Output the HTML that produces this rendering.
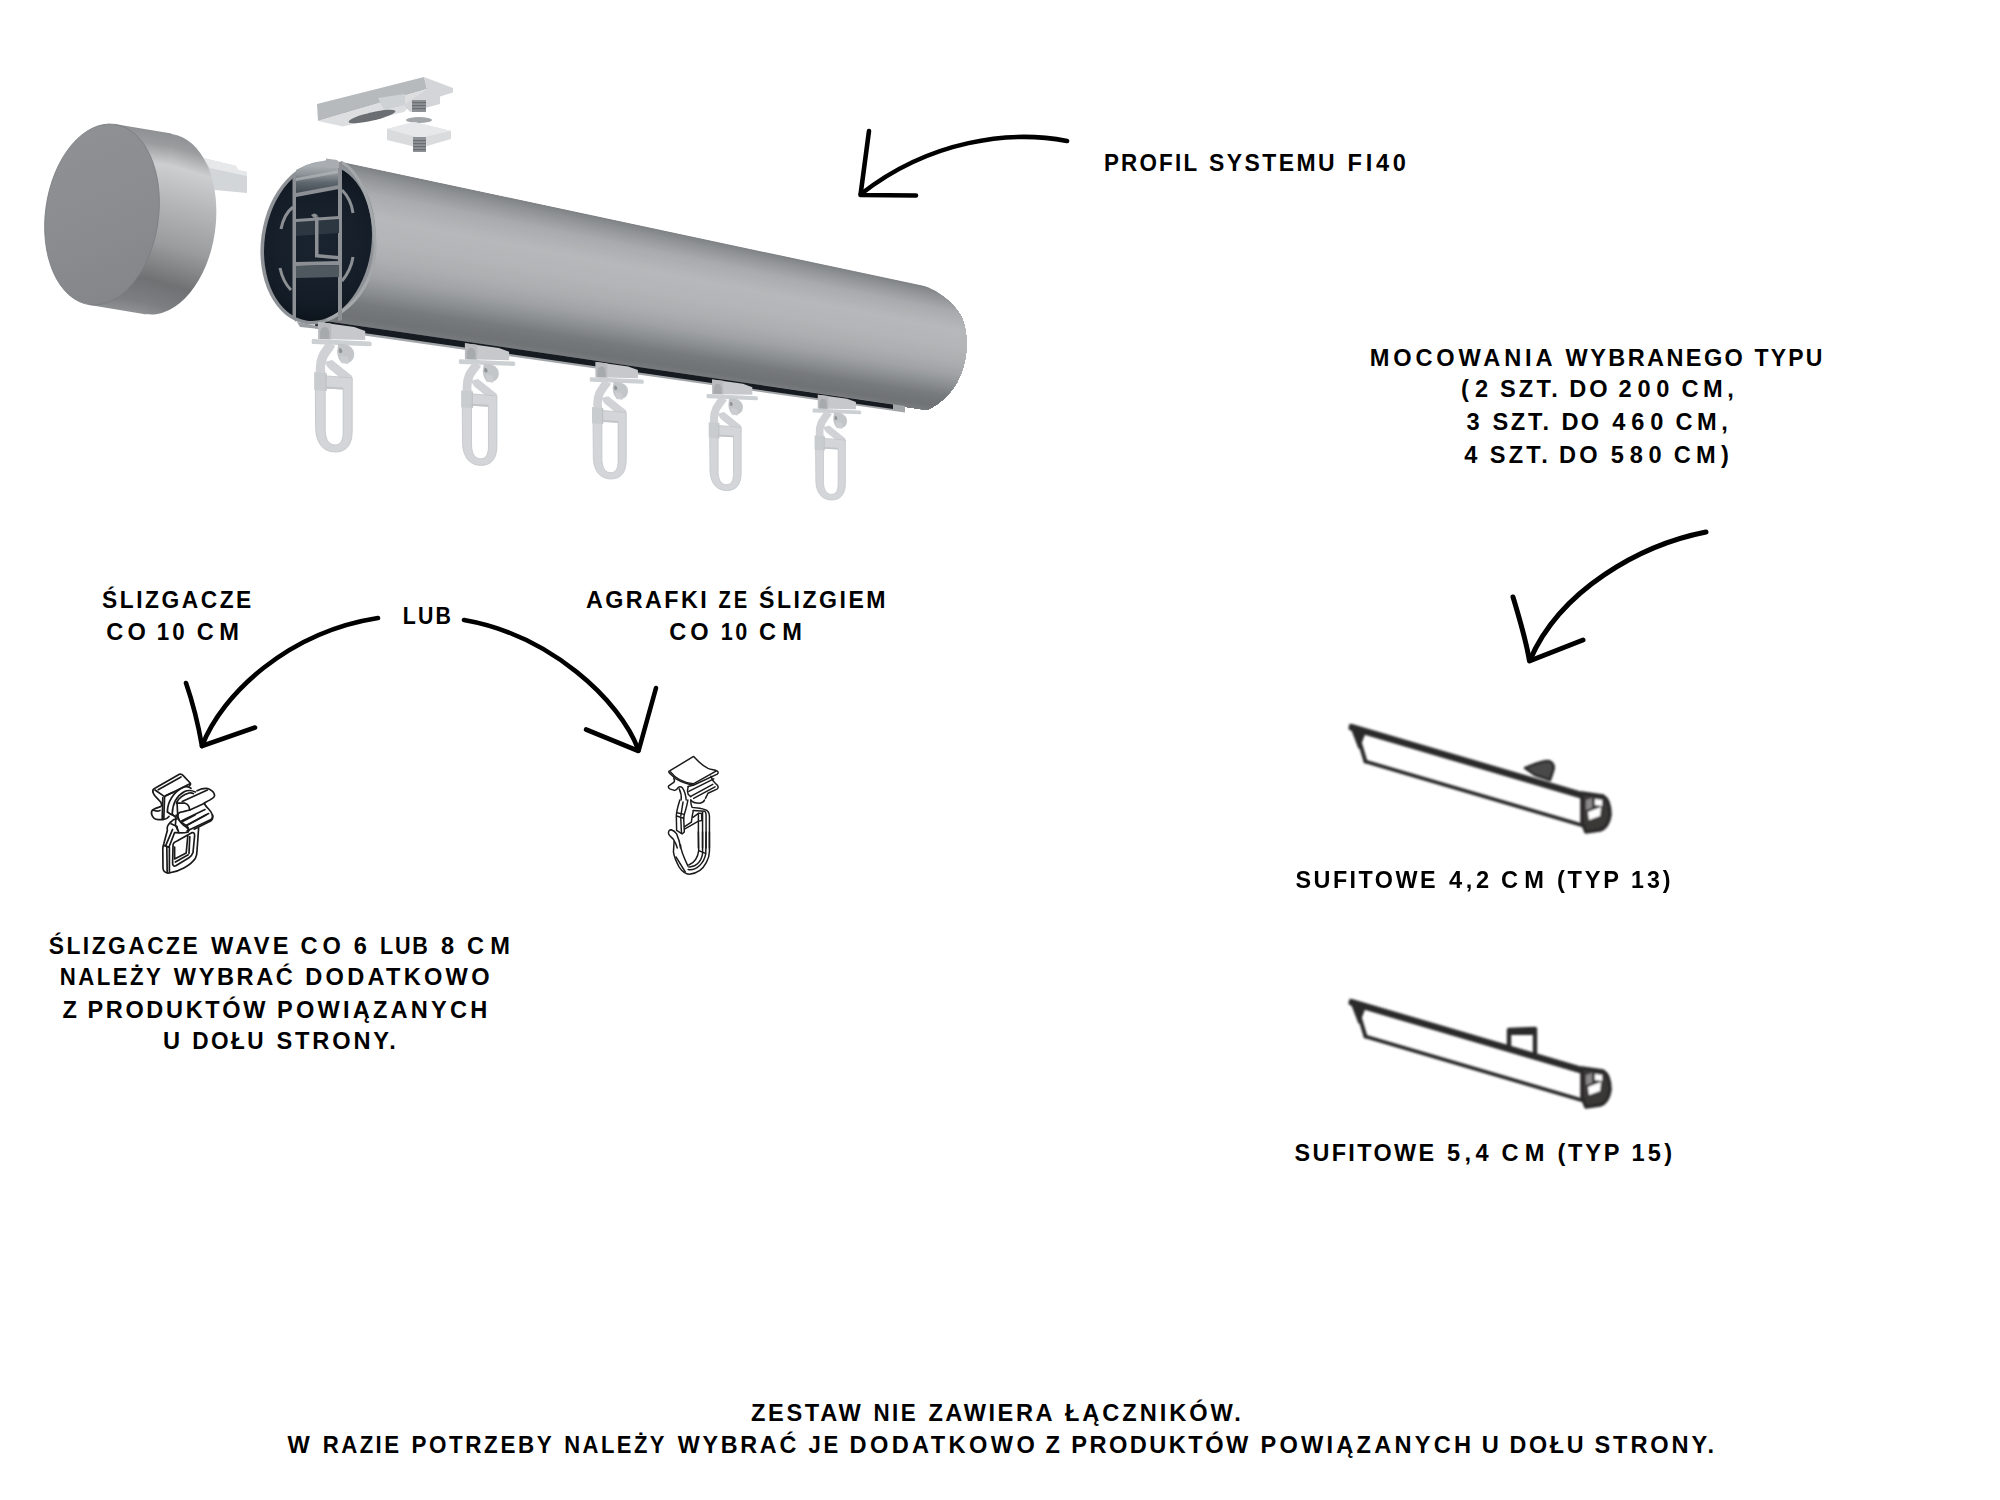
<!DOCTYPE html>
<html><head><meta charset="utf-8"><style>
html,body{margin:0;padding:0;background:#fff;}
body{width:2000px;height:1500px;overflow:hidden;font-family:"Liberation Sans",sans-serif;}
svg{position:absolute;left:0;top:0;}
</style></head><body>
<svg width="2000" height="1500" viewBox="0 0 2000 1500">
<defs><filter id="soft" x="-5%" y="-20%" width="110%" height="140%"><feGaussianBlur stdDeviation="1.0"/></filter></defs>
<polygon points="203,158 236,166 238,170 247,172 247,193 215,190 205,197" fill="#d3d6d9"/>
<polygon points="203,158 236,166 238,170 247,172 247,176 210,168" fill="#e6e8ea"/>
<linearGradient id="capband" gradientUnits="userSpaceOnUse" x1="178" y1="128" x2="150" y2="318"><stop offset="0" stop-color="#898b8e"/><stop offset="0.1" stop-color="#9a9c9e"/><stop offset="0.2" stop-color="#cdcecf"/><stop offset="0.4" stop-color="#b2b4b6"/><stop offset="0.6" stop-color="#9a9c9e"/><stop offset="0.8" stop-color="#6f7173"/><stop offset="0.92" stop-color="#7c7e81"/><stop offset="1" stop-color="#939597"/></linearGradient>
<g fill="url(#capband)">
<ellipse cx="159.0" cy="224.0" rx="56.5" ry="91.0" transform="rotate(8 159.0 224.0)"/>
<polygon points="114.5,124.0 171.5,133.5 146.5,314.5 89.5,305.0"/>
</g>
<linearGradient id="capface" gradientUnits="userSpaceOnUse" x1="60" y1="140" x2="150" y2="300"><stop offset="0" stop-color="#8e9093"/><stop offset="0.5" stop-color="#8a8c8f"/><stop offset="1" stop-color="#838588"/></linearGradient>
<ellipse cx="102.0" cy="214.5" rx="56.5" ry="91.0" transform="rotate(8 102.0 214.5)" fill="url(#capface)" stroke="#7a7c7f" stroke-width="0.8"/>
<polygon points="317,104 424,77 427,89 318,121" fill="#b7babd"/>
<polygon points="318,121 427,89 404,112 343,126.5" fill="#dcdee0"/>
<polygon points="424,77 453,88 453,92.5 440,96.5 440,104 410,112 404,105 427,89" fill="#d3d5d8"/>
<polygon points="378,98 405,94 405,105 384,110" fill="#cfd2d5"/>
<ellipse cx="372" cy="116.5" rx="24" ry="4.2" transform="rotate(-13 372 116.5)" fill="#6b6e72"/>
<rect x="412" y="100" width="14" height="12" fill="#8e9195"/>
<rect x="412" y="102" width="14" height="1.2" fill="#6a6d71"/>
<rect x="412" y="105" width="14" height="1.2" fill="#6a6d71"/>
<rect x="412" y="108" width="14" height="1.2" fill="#6a6d71"/>
<ellipse cx="419" cy="120" rx="13" ry="3" fill="#a3a6a9"/>
<polygon points="387,129 414,122 451,131 451,139 420,148 387,140" fill="#d9dbdd"/>
<polygon points="387,129 414,122 451,131 420,138 " fill="#e6e8ea"/>
<rect x="413" y="137" width="13" height="15" fill="#8e9195"/>
<rect x="413" y="140" width="13" height="1.2" fill="#6a6d71"/>
<rect x="413" y="143" width="13" height="1.2" fill="#6a6d71"/>
<rect x="413" y="146" width="13" height="1.2" fill="#6a6d71"/>
<rect x="413" y="149" width="13" height="1.2" fill="#6a6d71"/>
<clipPath id="railclip"><path d="M341,161.5 L922,285 C940,291 956,305 962,318 C968,333 968,352 963,368 C957,388 944,402 927,410 L325,321.9 L300,243 L330,166 Z"/></clipPath>
<g clip-path="url(#railclip)">
<polygon points="300.00,153.04 975.00,296.82 975.00,417.44 300.00,318.21" fill="#818487"/>
<polygon points="300.00,155.40 975.00,298.54 975.00,417.44 300.00,318.21" fill="#86898c"/>
<polygon points="300.00,157.76 975.00,300.26 975.00,417.44 300.00,318.21" fill="#8a8d90"/>
<polygon points="300.00,160.12 975.00,301.99 975.00,417.44 300.00,318.21" fill="#8f9295"/>
<polygon points="300.00,162.48 975.00,303.71 975.00,417.44 300.00,318.21" fill="#929598"/>
<polygon points="300.00,164.84 975.00,305.43 975.00,417.44 300.00,318.21" fill="#96989b"/>
<polygon points="300.00,167.20 975.00,307.15 975.00,417.44 300.00,318.21" fill="#999c9f"/>
<polygon points="300.00,169.56 975.00,308.88 975.00,417.44 300.00,318.21" fill="#9d9fa2"/>
<polygon points="300.00,171.92 975.00,310.60 975.00,417.44 300.00,318.21" fill="#a0a2a5"/>
<polygon points="300.00,174.28 975.00,312.32 975.00,417.44 300.00,318.21" fill="#a3a5a8"/>
<polygon points="300.00,176.64 975.00,314.05 975.00,417.44 300.00,318.21" fill="#a7a9ac"/>
<polygon points="300.00,179.00 975.00,315.77 975.00,417.44 300.00,318.21" fill="#a9abae"/>
<polygon points="300.00,181.36 975.00,317.49 975.00,417.44 300.00,318.21" fill="#abadb0"/>
<polygon points="300.00,183.72 975.00,319.22 975.00,417.44 300.00,318.21" fill="#acaeb1"/>
<polygon points="300.00,186.07 975.00,320.94 975.00,417.44 300.00,318.21" fill="#adafb2"/>
<polygon points="300.00,188.43 975.00,322.66 975.00,417.44 300.00,318.21" fill="#afb1b3"/>
<polygon points="300.00,190.79 975.00,324.39 975.00,417.44 300.00,318.21" fill="#b0b2b4"/>
<polygon points="300.00,193.15 975.00,326.11 975.00,417.44 300.00,318.21" fill="#b1b3b6"/>
<polygon points="300.00,195.51 975.00,327.83 975.00,417.44 300.00,318.21" fill="#b3b5b7"/>
<polygon points="300.00,197.87 975.00,329.56 975.00,417.44 300.00,318.21" fill="#b4b6b8"/>
<polygon points="300.00,200.23 975.00,331.28 975.00,417.44 300.00,318.21" fill="#b5b7b9"/>
<polygon points="300.00,202.59 975.00,333.00 975.00,417.44 300.00,318.21" fill="#b6b8ba"/>
<polygon points="300.00,204.95 975.00,334.72 975.00,417.44 300.00,318.21" fill="#b6b8ba"/>
<polygon points="300.00,207.31 975.00,336.45 975.00,417.44 300.00,318.21" fill="#b5b7b9"/>
<polygon points="300.00,209.67 975.00,338.17 975.00,417.44 300.00,318.21" fill="#b5b7b9"/>
<polygon points="300.00,212.03 975.00,339.89 975.00,417.44 300.00,318.21" fill="#b5b7b9"/>
<polygon points="300.00,214.39 975.00,341.62 975.00,417.44 300.00,318.21" fill="#b4b6b8"/>
<polygon points="300.00,216.75 975.00,343.34 975.00,417.44 300.00,318.21" fill="#b4b6b8"/>
<polygon points="300.00,219.11 975.00,345.06 975.00,417.44 300.00,318.21" fill="#b4b6b8"/>
<polygon points="300.00,221.47 975.00,346.79 975.00,417.44 300.00,318.21" fill="#b4b6b8"/>
<polygon points="300.00,223.83 975.00,348.51 975.00,417.44 300.00,318.21" fill="#b3b5b7"/>
<polygon points="300.00,226.19 975.00,350.23 975.00,417.44 300.00,318.21" fill="#b3b5b7"/>
<polygon points="300.00,228.55 975.00,351.96 975.00,417.44 300.00,318.21" fill="#b2b4b6"/>
<polygon points="300.00,230.91 975.00,353.68 975.00,417.44 300.00,318.21" fill="#b1b3b5"/>
<polygon points="300.00,233.27 975.00,355.40 975.00,417.44 300.00,318.21" fill="#b0b2b4"/>
<polygon points="300.00,235.63 975.00,357.13 975.00,417.44 300.00,318.21" fill="#afb1b3"/>
<polygon points="300.00,237.99 975.00,358.85 975.00,417.44 300.00,318.21" fill="#afb1b3"/>
<polygon points="300.00,240.34 975.00,360.57 975.00,417.44 300.00,318.21" fill="#aeb0b2"/>
<polygon points="300.00,242.70 975.00,362.29 975.00,417.44 300.00,318.21" fill="#adafb1"/>
<polygon points="300.00,245.06 975.00,364.02 975.00,417.44 300.00,318.21" fill="#acaeb0"/>
<polygon points="300.00,247.42 975.00,365.74 975.00,417.44 300.00,318.21" fill="#abadaf"/>
<polygon points="300.00,249.78 975.00,367.46 975.00,417.44 300.00,318.21" fill="#a9abae"/>
<polygon points="300.00,252.14 975.00,369.19 975.00,417.44 300.00,318.21" fill="#a8aaac"/>
<polygon points="300.00,254.50 975.00,370.91 975.00,417.44 300.00,318.21" fill="#a6a8aa"/>
<polygon points="300.00,256.86 975.00,372.63 975.00,417.44 300.00,318.21" fill="#a4a6a9"/>
<polygon points="300.00,259.22 975.00,374.36 975.00,417.44 300.00,318.21" fill="#a3a5a7"/>
<polygon points="300.00,261.58 975.00,376.08 975.00,417.44 300.00,318.21" fill="#a1a3a6"/>
<polygon points="300.00,263.94 975.00,377.80 975.00,417.44 300.00,318.21" fill="#9fa1a4"/>
<polygon points="300.00,266.30 975.00,379.53 975.00,417.44 300.00,318.21" fill="#9c9ea1"/>
<polygon points="300.00,268.66 975.00,381.25 975.00,417.44 300.00,318.21" fill="#999c9f"/>
<polygon points="300.00,271.02 975.00,382.97 975.00,417.44 300.00,318.21" fill="#96999c"/>
<polygon points="300.00,273.38 975.00,384.70 975.00,417.44 300.00,318.21" fill="#939699"/>
<polygon points="300.00,275.74 975.00,386.42 975.00,417.44 300.00,318.21" fill="#909396"/>
<polygon points="300.00,278.10 975.00,388.14 975.00,417.44 300.00,318.21" fill="#8d9093"/>
<polygon points="300.00,280.46 975.00,389.86 975.00,417.44 300.00,318.21" fill="#8a8d90"/>
<polygon points="300.00,282.82 975.00,391.59 975.00,417.44 300.00,318.21" fill="#878a8d"/>
<polygon points="300.00,285.18 975.00,393.31 975.00,417.44 300.00,318.21" fill="#838689"/>
<polygon points="300.00,287.54 975.00,395.03 975.00,417.44 300.00,318.21" fill="#808386"/>
<polygon points="300.00,289.90 975.00,396.76 975.00,417.44 300.00,318.21" fill="#7d8083"/>
<polygon points="300.00,292.25 975.00,398.48 975.00,417.44 300.00,318.21" fill="#797c7f"/>
<polygon points="300.00,294.61 975.00,400.20 975.00,417.44 300.00,318.21" fill="#777a7d"/>
<polygon points="300.00,296.97 975.00,401.93 975.00,417.44 300.00,318.21" fill="#76797c"/>
<polygon points="300.00,299.33 975.00,403.65 975.00,417.44 300.00,318.21" fill="#74777a"/>
<polygon points="300.00,301.69 975.00,405.37 975.00,417.44 300.00,318.21" fill="#737679"/>
<polygon points="300.00,304.05 975.00,407.10 975.00,417.44 300.00,318.21" fill="#727578"/>
<polygon points="300.00,306.41 975.00,408.82 975.00,417.44 300.00,318.21" fill="#717477"/>
<polygon points="300.00,308.77 975.00,410.54 975.00,417.44 300.00,318.21" fill="#707376"/>
<polygon points="300.00,311.13 975.00,412.27 975.00,417.44 300.00,318.21" fill="#727578"/>
<polygon points="300.00,313.49 975.00,413.99 975.00,417.44 300.00,318.21" fill="#75787b"/>
<polygon points="300.00,315.85 975.00,415.71 975.00,417.44 300.00,318.21" fill="#777a7d"/>
</g>
<polygon points="315.0,319.4 905.0,406.1 905.0,412.6 315.0,328.4" fill="#a3a6a9"/>
<polygon points="315.0,319.4 893.0,404.4 893.0,409.0 315.0,325.9" fill="#161b21"/>
<radialGradient id="xsin" gradientUnits="userSpaceOnUse" cx="318" cy="243" r="80"><stop offset="0" stop-color="#1a2430"/><stop offset="0.75" stop-color="#141d27"/><stop offset="1" stop-color="#0c131b"/></radialGradient>
<linearGradient id="xtop" gradientUnits="userSpaceOnUse" x1="0" y1="166" x2="0" y2="194"><stop offset="0" stop-color="#a9aeb2"/><stop offset="0.3" stop-color="#8d9398"/><stop offset="0.6" stop-color="#5e666d"/><stop offset="1" stop-color="#3f4850"/></linearGradient>
<ellipse cx="318" cy="243" rx="57" ry="82" transform="rotate(8 318 243)" fill="#8e9296"/>
<ellipse cx="318" cy="243" rx="53.4" ry="78.4" transform="rotate(8 318 243)" fill="url(#xsin)"/>
<path d="M341,162 C360,172 374,205 375,243 C376,275 360,305 327,320" stroke="#a4a8ab" stroke-width="3" fill="none"/>
<polygon points="296,170 306,165 327,160 339,162 339,187 296,195" fill="url(#xtop)"/>
<polygon points="296,178 339,170 339,173 296,181" fill="#b3b7bb" opacity="0.7"/>
<polygon points="292.5,176 296,174 296,322 292.5,318" fill="#8c9094"/>
<polygon points="338,162 342,161.5 342,320 338,321" fill="#8c9094"/>
<polygon points="296,193 339,185 339,189 296,197" fill="#8c9094"/>
<polygon points="296,220 339,217 339,233 296,236" fill="#2c3742"/>
<polygon points="296,219 339,216 339,219 296,222" fill="#8c9094"/>
<polygon points="311,215 314,213.5 316,214 318,216 314,218" fill="#8c9094"/>
<polygon points="315,217 318.5,216.5 318.5,257 315,257.5" fill="#8c9094"/>
<polygon points="317,254 339,256 339,259.5 317,257.5" fill="#8c9094"/>
<polygon points="296,262 339,261 339,265 296,266" fill="#8c9094"/>
<polygon points="296,266 339,265 339,277 296,278" fill="#4f585f"/>
<path d="M281,229 Q284,214 293,207" stroke="#8c9094" stroke-width="3" fill="none"/>
<path d="M280,268 Q283,282 291,290" stroke="#8c9094" stroke-width="3" fill="none"/>
<path d="M342,190 Q351,199 353,213" stroke="#8c9094" stroke-width="3" fill="none"/>
<path d="M353,257 Q351,270 342,281" stroke="#8c9094" stroke-width="3" fill="none"/>
<polygon points="326,158.5 337,160 339,162 339,168 326,168" fill="#a9adb1"/>
<polygon points="297,322 317,326 327,319 320,329 300,327" fill="#9a9ea2"/>
<g transform="translate(312.20 339.00) scale(1.000)">
<polygon points="6,-17 42,-12 53,-8 53,1 6,0" fill="#c6c8cb"/>
<polygon points="6,-17 19,-15.5 19,0.5 6,0" fill="#b9bbbe"/>
<path d="M8,0 L8,-6 C8,-10 10,-12 12.5,-12 C15,-12 17,-10 17,-6 L17,0 Z" fill="#a7aaad"/>
<path d="M1,0 L57.5,2.5 C59,2.7 59.5,3.5 59.5,4.5 L59.5,6 C59.5,6.8 59,7.2 57.5,7.2 L1,5 C0,5 -0.5,4.5 -0.5,3.5 L-0.5,1.5 C-0.5,0.5 0,0 1,0 Z" fill="#cdd0d2"/>
<path d="M26,5 C34,4 42,8 42,15 C42,21 38,24 34,24 L30,24 C27,22 25,17 25,12 Z" fill="#c3c6c9"/>
<path d="M27,9 C29,9 30.5,11 30,13 C29.5,14.5 27.5,14.5 26.5,13 Z" fill="#8f9296"/>
<polygon points="28,16 36,18 36,25 29,24" fill="#cbcdd0"/>
<path d="M9,38 C7,28 9,18 14,12 C16,9 18,7 19,5" stroke="#cfd1d4" stroke-width="9.5" fill="none" stroke-linecap="butt"/>
<polygon points="12,23 20,21 40,37 40,44 33,43 16,29" fill="#d0d2d5"/>
<path fill-rule="evenodd" fill="#d3d5d8" stroke="#c2c5c8" stroke-width="0.9" d="M3,36 L40,39 L40,92 C40,106 34,113 23,113 C11,113 4,104 3.5,90 Z M13,49 L31,50 L31,93 C31,102 28,106 23,106 C17,106 13.5,101 13,92 Z"/>
<polygon points="13,47.5 31,48.5 31,50.5 13,49.5" fill="#c1c4c7"/>
<polygon points="2,33 13,34 13,52 2,51" fill="#c9cccf"/>
<polygon points="13,34 14.5,34 14.5,52 13,52" fill="#bfc2c5"/>
</g>
<g transform="translate(459.30 359.20) scale(0.940)">
<polygon points="6,-17 42,-12 53,-8 53,1 6,0" fill="#c6c8cb"/>
<polygon points="6,-17 19,-15.5 19,0.5 6,0" fill="#b9bbbe"/>
<path d="M8,0 L8,-6 C8,-10 10,-12 12.5,-12 C15,-12 17,-10 17,-6 L17,0 Z" fill="#a7aaad"/>
<path d="M1,0 L57.5,2.5 C59,2.7 59.5,3.5 59.5,4.5 L59.5,6 C59.5,6.8 59,7.2 57.5,7.2 L1,5 C0,5 -0.5,4.5 -0.5,3.5 L-0.5,1.5 C-0.5,0.5 0,0 1,0 Z" fill="#cdd0d2"/>
<path d="M26,5 C34,4 42,8 42,15 C42,21 38,24 34,24 L30,24 C27,22 25,17 25,12 Z" fill="#c3c6c9"/>
<path d="M27,9 C29,9 30.5,11 30,13 C29.5,14.5 27.5,14.5 26.5,13 Z" fill="#8f9296"/>
<polygon points="28,16 36,18 36,25 29,24" fill="#cbcdd0"/>
<path d="M9,38 C7,28 9,18 14,12 C16,9 18,7 19,5" stroke="#cfd1d4" stroke-width="9.5" fill="none" stroke-linecap="butt"/>
<polygon points="12,23 20,21 40,37 40,44 33,43 16,29" fill="#d0d2d5"/>
<path fill-rule="evenodd" fill="#d3d5d8" stroke="#c2c5c8" stroke-width="0.9" d="M3,36 L40,39 L40,92 C40,106 34,113 23,113 C11,113 4,104 3.5,90 Z M13,49 L31,50 L31,93 C31,102 28,106 23,106 C17,106 13.5,101 13,92 Z"/>
<polygon points="13,47.5 31,48.5 31,50.5 13,49.5" fill="#c1c4c7"/>
<polygon points="2,33 13,34 13,52 2,51" fill="#c9cccf"/>
<polygon points="13,34 14.5,34 14.5,52 13,52" fill="#bfc2c5"/>
</g>
<g transform="translate(590.20 377.30) scale(0.900)">
<polygon points="6,-17 42,-12 53,-8 53,1 6,0" fill="#c6c8cb"/>
<polygon points="6,-17 19,-15.5 19,0.5 6,0" fill="#b9bbbe"/>
<path d="M8,0 L8,-6 C8,-10 10,-12 12.5,-12 C15,-12 17,-10 17,-6 L17,0 Z" fill="#a7aaad"/>
<path d="M1,0 L57.5,2.5 C59,2.7 59.5,3.5 59.5,4.5 L59.5,6 C59.5,6.8 59,7.2 57.5,7.2 L1,5 C0,5 -0.5,4.5 -0.5,3.5 L-0.5,1.5 C-0.5,0.5 0,0 1,0 Z" fill="#cdd0d2"/>
<path d="M26,5 C34,4 42,8 42,15 C42,21 38,24 34,24 L30,24 C27,22 25,17 25,12 Z" fill="#c3c6c9"/>
<path d="M27,9 C29,9 30.5,11 30,13 C29.5,14.5 27.5,14.5 26.5,13 Z" fill="#8f9296"/>
<polygon points="28,16 36,18 36,25 29,24" fill="#cbcdd0"/>
<path d="M9,38 C7,28 9,18 14,12 C16,9 18,7 19,5" stroke="#cfd1d4" stroke-width="9.5" fill="none" stroke-linecap="butt"/>
<polygon points="12,23 20,21 40,37 40,44 33,43 16,29" fill="#d0d2d5"/>
<path fill-rule="evenodd" fill="#d3d5d8" stroke="#c2c5c8" stroke-width="0.9" d="M3,36 L40,39 L40,92 C40,106 34,113 23,113 C11,113 4,104 3.5,90 Z M13,49 L31,50 L31,93 C31,102 28,106 23,106 C17,106 13.5,101 13,92 Z"/>
<polygon points="13,47.5 31,48.5 31,50.5 13,49.5" fill="#c1c4c7"/>
<polygon points="2,33 13,34 13,52 2,51" fill="#c9cccf"/>
<polygon points="13,34 14.5,34 14.5,52 13,52" fill="#bfc2c5"/>
</g>
<g transform="translate(707.00 394.00) scale(0.855)">
<polygon points="6,-17 42,-12 53,-8 53,1 6,0" fill="#c6c8cb"/>
<polygon points="6,-17 19,-15.5 19,0.5 6,0" fill="#b9bbbe"/>
<path d="M8,0 L8,-6 C8,-10 10,-12 12.5,-12 C15,-12 17,-10 17,-6 L17,0 Z" fill="#a7aaad"/>
<path d="M1,0 L57.5,2.5 C59,2.7 59.5,3.5 59.5,4.5 L59.5,6 C59.5,6.8 59,7.2 57.5,7.2 L1,5 C0,5 -0.5,4.5 -0.5,3.5 L-0.5,1.5 C-0.5,0.5 0,0 1,0 Z" fill="#cdd0d2"/>
<path d="M26,5 C34,4 42,8 42,15 C42,21 38,24 34,24 L30,24 C27,22 25,17 25,12 Z" fill="#c3c6c9"/>
<path d="M27,9 C29,9 30.5,11 30,13 C29.5,14.5 27.5,14.5 26.5,13 Z" fill="#8f9296"/>
<polygon points="28,16 36,18 36,25 29,24" fill="#cbcdd0"/>
<path d="M9,38 C7,28 9,18 14,12 C16,9 18,7 19,5" stroke="#cfd1d4" stroke-width="9.5" fill="none" stroke-linecap="butt"/>
<polygon points="12,23 20,21 40,37 40,44 33,43 16,29" fill="#d0d2d5"/>
<path fill-rule="evenodd" fill="#d3d5d8" stroke="#c2c5c8" stroke-width="0.9" d="M3,36 L40,39 L40,92 C40,106 34,113 23,113 C11,113 4,104 3.5,90 Z M13,49 L31,50 L31,93 C31,102 28,106 23,106 C17,106 13.5,101 13,92 Z"/>
<polygon points="13,47.5 31,48.5 31,50.5 13,49.5" fill="#c1c4c7"/>
<polygon points="2,33 13,34 13,52 2,51" fill="#c9cccf"/>
<polygon points="13,34 14.5,34 14.5,52 13,52" fill="#bfc2c5"/>
</g>
<g transform="translate(813.00 408.50) scale(0.810)">
<polygon points="6,-17 42,-12 53,-8 53,1 6,0" fill="#c6c8cb"/>
<polygon points="6,-17 19,-15.5 19,0.5 6,0" fill="#b9bbbe"/>
<path d="M8,0 L8,-6 C8,-10 10,-12 12.5,-12 C15,-12 17,-10 17,-6 L17,0 Z" fill="#a7aaad"/>
<path d="M1,0 L57.5,2.5 C59,2.7 59.5,3.5 59.5,4.5 L59.5,6 C59.5,6.8 59,7.2 57.5,7.2 L1,5 C0,5 -0.5,4.5 -0.5,3.5 L-0.5,1.5 C-0.5,0.5 0,0 1,0 Z" fill="#cdd0d2"/>
<path d="M26,5 C34,4 42,8 42,15 C42,21 38,24 34,24 L30,24 C27,22 25,17 25,12 Z" fill="#c3c6c9"/>
<path d="M27,9 C29,9 30.5,11 30,13 C29.5,14.5 27.5,14.5 26.5,13 Z" fill="#8f9296"/>
<polygon points="28,16 36,18 36,25 29,24" fill="#cbcdd0"/>
<path d="M9,38 C7,28 9,18 14,12 C16,9 18,7 19,5" stroke="#cfd1d4" stroke-width="9.5" fill="none" stroke-linecap="butt"/>
<polygon points="12,23 20,21 40,37 40,44 33,43 16,29" fill="#d0d2d5"/>
<path fill-rule="evenodd" fill="#d3d5d8" stroke="#c2c5c8" stroke-width="0.9" d="M3,36 L40,39 L40,92 C40,106 34,113 23,113 C11,113 4,104 3.5,90 Z M13,49 L31,50 L31,93 C31,102 28,106 23,106 C17,106 13.5,101 13,92 Z"/>
<polygon points="13,47.5 31,48.5 31,50.5 13,49.5" fill="#c1c4c7"/>
<polygon points="2,33 13,34 13,52 2,51" fill="#c9cccf"/>
<polygon points="13,34 14.5,34 14.5,52 13,52" fill="#bfc2c5"/>
</g><g fill="none" stroke="#000" stroke-width="4.6" stroke-linecap="round" stroke-linejoin="round"><path d="M1067,141 C1010,130 930,140 861,194" />
<path d="M869,131 L860.5,195 L916,195.5" />
<g stroke-width="5"><path d="M1706,532 C1640,545 1560,590 1530,660" /><path d="M1513,597 C1520,620 1526,640 1529.5,661 L1583,640" /></g>
<path d="M378,618 C288,632 222,694 202,746" />
<path d="M186,683 Q196,712 202,746 L255,727.5" />
<path d="M464,620 C550,635 620,700 638.5,750" />
<path d="M656,688 L638.5,751 L586,729.5" /></g><g transform="translate(145 770) scale(0.04)" fill="none" stroke="#1a1a1a" stroke-width="42" stroke-linecap="round" stroke-linejoin="round">
<path d="M195,540 C185,490 220,465 270,445 L860,105 C895,95 925,105 950,135 L1130,325 C1145,350 1130,380 1110,395"/>
<path d="M330,495 L900,175"/>
<path d="M250,500 L490,665 L1110,350"/>
<path d="M490,665 L470,1220"/>
<path d="M445,690 L430,1215"/>
<path d="M195,540 C210,640 330,720 390,800 C420,850 425,900 390,915 C330,935 250,960 200,990 C165,1015 155,1070 170,1120 C195,1200 270,1240 330,1240 L450,1240 C520,1230 570,1200 600,1160"/>
<path d="M200,1000 C260,1030 330,1030 375,1010"/>
<path d="M520,640 C600,600 660,570 720,560"/>
<path d="M560,1040 C560,820 700,540 980,425 C1060,400 1110,420 1150,460"/>
<path d="M680,1100 C690,880 780,650 990,540 C1070,500 1150,500 1260,550"/>
<path d="M800,800 C850,700 950,620 1100,575 C1150,565 1190,575 1210,590"/>
<path d="M800,800 L820,1180"/>
<path d="M790,830 L1000,830 C1070,850 1110,900 1115,1000"/>
<path d="M1300,520 L1420,470 C1500,455 1560,455 1600,475 C1680,510 1735,590 1740,640 C1725,700 1680,720 1480,825 C1490,870 1540,925 1590,975 C1660,1050 1700,1110 1690,1200 C1680,1250 1640,1280 1590,1300 L1230,1480"/>
<path d="M930,790 L1560,500"/>
<path d="M1120,1000 L1490,830"/>
<path d="M830,1090 C860,1055 900,1045 960,1040 L1115,1000"/>
<path d="M830,1090 C800,1160 830,1260 900,1300 L1040,1400 C1080,1430 1100,1470 1100,1500"/>
<path d="M920,1270 L1500,990"/>
<path d="M1040,1385 L1590,1090"/>
<path d="M560,1050 C620,1100 680,1130 740,1150"/>
<path d="M680,1100 L760,1180"/>
<g transform="translate(0 1125)">
<path d="M640,180 C560,260 540,330 560,380 L470,720 C450,760 445,800 445,850 L450,1330 C455,1410 520,1460 600,1450 C850,1420 1150,1250 1260,1080 C1290,1020 1300,980 1300,900 L1340,330"/>
<path d="M470,760 L610,810 L610,1440"/>
<path d="M545,800 L555,1440"/>
<path d="M520,760 L690,360"/>
<path d="M600,800 L740,440"/>
<path d="M700,760 C700,700 740,670 800,650 L1180,440 C1220,430 1245,470 1240,520 L1200,940 C1180,1000 1150,1040 1100,1070 L770,1270 C720,1290 690,1260 690,1200 Z"/>
<path d="M740,800 L740,1100 L1030,950 L1070,520"/>
<path d="M760,1175 L1080,995"/>
<path d="M1120,540 L1100,960"/>
<path d="M640,180 C700,110 760,90 800,100"/>
<path d="M650,220 L800,290 L820,380"/>
<path d="M760,440 C870,450 960,460 1060,430"/>
<path d="M830,60 C850,150 960,260 1040,310 C1080,340 1095,380 1085,420"/>
<path d="M1050,400 L1650,110 C1690,80 1700,40 1690,0"/>
<path d="M940,160 L1250,0"/>
<path d="M1040,255 L1520,0"/>
<path d="M780,0 L760,250 L840,420"/>
</g></g><g transform="translate(660 752) scale(0.032)" fill="none" stroke="#1a1a1a" stroke-width="46" stroke-linecap="round" stroke-linejoin="round">
<path d="M300,590 L1050,140 C1150,250 1300,420 1500,510 C1600,550 1700,560 1780,590 C1830,620 1830,660 1790,690 L1040,1040 C900,1010 700,960 500,840 C400,760 310,690 280,640 C270,610 280,595 300,590 Z"/>
<path d="M330,620 C450,780 700,950 1040,995"/>
<path d="M1040,995 L1750,600"/>
<path d="M430,820 C460,880 460,920 430,950 L270,1060 C250,1090 270,1140 320,1160 L450,1200 C500,1200 540,1160 560,1120 C600,1080 660,1080 700,1120 C760,1200 800,1300 820,1500"/>
<path d="M600,1150 C650,1250 680,1350 660,1500"/>
<path d="M1590,760 C1620,850 1660,920 1720,970 L1800,1050 C1830,1100 1820,1140 1780,1160 L1500,1290 C1480,1330 1450,1380 1420,1450"/>
<path d="M880,1080 C860,1150 850,1250 880,1320 L960,1400"/>
<path d="M900,1230 L1680,840"/>
<path d="M960,1390 L1650,1010"/>
<path d="M1050,1450 L1720,1090"/>
<path d="M880,1080 C950,1060 1000,1050 1040,1040"/>
<g transform="translate(0 1500)">
<path d="M870,0 C860,100 820,250 760,450 L740,560 L760,1000 L690,1060 L520,950 L510,500 C510,350 560,200 620,0"/>
<path d="M530,400 L760,450"/>
<path d="M520,500 L740,570"/>
<path d="M650,580 L670,1020"/>
<path d="M720,60 L650,500"/>
<path d="M960,0 C960,50 970,150 1000,230 L1240,260 C1350,280 1450,310 1500,360 C1540,420 1545,460 1545,500 L1545,1500"/>
<path d="M1040,330 L1400,350 C1430,380 1440,420 1440,460 L1440,1500"/>
<path d="M1040,330 C1020,420 1000,520 980,690 L770,830"/>
<path d="M1030,540 L1210,410 L1300,420 L1310,640 L1200,660 L780,900"/>
<path d="M1200,420 L1200,1500"/>
<path d="M1330,380 L1330,1500"/>
<path d="M960,0 C1000,60 1100,100 1250,100 C1320,80 1380,40 1390,0"/>
<path d="M350,930 C290,930 250,980 270,1060 C300,1130 380,1180 420,1230 C480,1330 520,1420 540,1500"/>
<path d="M350,930 C420,950 480,1000 520,1060 C560,1150 620,1300 640,1500"/>
</g><g transform="translate(0 2500)">
<path d="M440,300 L420,620 C440,780 520,950 600,1100 C700,1250 800,1320 920,1320 C1150,1300 1350,1150 1450,950 C1530,800 1545,700 1545,600 L1545,0"/>
<path d="M640,400 C640,550 700,700 870,1060"/>
<path d="M1200,0 L1210,580 C1180,800 1100,950 900,1030"/>
<path d="M890,1090 C1100,1110 1280,950 1330,680 L1330,0"/>
<path d="M880,1170 C1150,1220 1380,950 1430,680 L1440,0"/>
<path d="M500,780 L790,1250"/>
<path d="M1210,580 L1420,670"/>
</g></g><g filter="url(#soft)"><g transform="translate(0 0)" fill="none" stroke="#2c2a2b" stroke-linecap="round" stroke-linejoin="round">
<polygon points="1350,724.5 1366,730 1359,748" fill="#2c2a2b" stroke-width="1.5"/>
<path d="M1352,727.5 L1586,796.5" stroke-width="7"/>
<path d="M1356,730 L1365.5,761.5" stroke-width="4"/>
<path d="M1365.5,761.5 L1583,825.5" stroke-width="3.8"/>
<path d="M1582,793 L1603,796 C1608,799 1610,807 1610,815 C1609,822 1606,828 1600,830 L1586,832 L1582,822 Z" fill="#3a3839" stroke-width="3.6"/>
<path d="M1588,812 L1601,807 L1600,816 L1589,820 Z" fill="#ffffff" stroke="none"/>
<path d="M1595,799 L1602,800 L1602,806 L1595,805 Z" fill="#ffffff" stroke="none"/>
<path d="M1586,800 L1592,798 L1592,808 L1586,810 Z" fill="#8a8889" stroke="none"/>
<path d="M1525,768 C1533,765 1541,761 1548,761 C1553,762 1555,766 1553,771 L1550,780 L1535,775 Z" fill="#4a4849" stroke-width="2.5"/>
</g><g transform="translate(0 275)" fill="none" stroke="#2c2a2b" stroke-linecap="round" stroke-linejoin="round">
<polygon points="1350,724.5 1366,730 1359,748" fill="#2c2a2b" stroke-width="1.5"/>
<path d="M1352,727.5 L1586,796.5" stroke-width="7"/>
<path d="M1356,730 L1365.5,761.5" stroke-width="4"/>
<path d="M1365.5,761.5 L1583,825.5" stroke-width="3.8"/>
<path d="M1582,793 L1603,796 C1608,799 1610,807 1610,815 C1609,822 1606,828 1600,830 L1586,832 L1582,822 Z" fill="#3a3839" stroke-width="3.6"/>
<path d="M1588,812 L1601,807 L1600,816 L1589,820 Z" fill="#ffffff" stroke="none"/>
<path d="M1595,799 L1602,800 L1602,806 L1595,805 Z" fill="#ffffff" stroke="none"/>
<path d="M1586,800 L1592,798 L1592,808 L1586,810 Z" fill="#8a8889" stroke="none"/>
<path d="M1509,774 L1509,755 L1535,754 L1535,780" stroke-width="4.4"/>
<rect x="1511" y="756" width="22" height="4" fill="#2c2a2b" stroke="none"/>
</g></g><g font-family="Liberation Sans" font-weight="bold" font-size="23.6" fill="#000"><text transform="translate(1104.00 171.10) scale(0.9501 1)" x="0" y="0" textLength="97.99" lengthAdjust="spacing">PROFIL</text>
<text transform="translate(1209.00 171.10) scale(0.9723 1)" x="0" y="0" textLength="129.28" lengthAdjust="spacing">SYSTEMU</text>
<text x="1347.60" y="171.10" textLength="58.30" lengthAdjust="spacing">FI40</text>
<text x="1369.80" y="365.50" textLength="182.70" lengthAdjust="spacing">MOCOWANIA</text>
<text transform="translate(1565.60 365.50) scale(0.9968 1)" x="0" y="0" textLength="177.87" lengthAdjust="spacing">WYBRANEGO</text>
<text transform="translate(1754.60 365.50) scale(0.9756 1)" x="0" y="0" textLength="69.39" lengthAdjust="spacing">TYPU</text>
<text x="1461.00" y="397.30" textLength="27.10" lengthAdjust="spacing">(2</text>
<text x="1500.00" y="397.30" textLength="57.90" lengthAdjust="spacing">SZT.</text>
<text x="1569.20" y="397.30" textLength="38.50" lengthAdjust="spacing">DO</text>
<text x="1618.60" y="397.30" textLength="50.70" lengthAdjust="spacing">200</text>
<text x="1681.40" y="397.30" textLength="52.30" lengthAdjust="spacing">CM,</text>
<text x="1466.40" y="430.30">3</text>
<text x="1492.40" y="430.30" textLength="56.70" lengthAdjust="spacing">SZT.</text>
<text x="1561.60" y="430.30" textLength="37.40" lengthAdjust="spacing">DO</text>
<text x="1612.20" y="430.30" textLength="51.10" lengthAdjust="spacing">460</text>
<text x="1675.40" y="430.30" textLength="52.30" lengthAdjust="spacing">CM,</text>
<text x="1464.20" y="462.50">4</text>
<text x="1489.80" y="462.50" textLength="57.90" lengthAdjust="spacing">SZT.</text>
<text x="1559.00" y="462.50" textLength="38.50" lengthAdjust="spacing">DO</text>
<text x="1610.80" y="462.50" textLength="50.90" lengthAdjust="spacing">580</text>
<text x="1673.80" y="462.50" textLength="55.10" lengthAdjust="spacing">CM)</text>
<text transform="translate(102.10 608.20) scale(0.9641 1)" x="0" y="0" textLength="154.76" lengthAdjust="spacing">ŚLIZGACZE</text>
<text x="106.30" y="640.20" textLength="39.50" lengthAdjust="spacing">CO</text>
<text transform="translate(156.80 640.20) scale(0.9448 1)" x="0" y="0" textLength="29.53" lengthAdjust="spacing">10</text>
<text x="196.70" y="640.20" textLength="42.20" lengthAdjust="spacing">CM</text>
<text transform="translate(402.80 624.20) scale(0.9052 1)" x="0" y="0" textLength="53.25" lengthAdjust="spacing">LUB</text>
<text transform="translate(585.90 608.30) scale(0.9871 1)" x="0" y="0" textLength="122.38" lengthAdjust="spacing">AGRAFKI</text>
<text transform="translate(718.40 608.30) scale(0.8555 1)" x="0" y="0" textLength="33.78" lengthAdjust="spacing">ZE</text>
<text transform="translate(759.00 608.30) scale(0.9783 1)" x="0" y="0" textLength="129.31" lengthAdjust="spacing">ŚLIZGIEM</text>
<text x="669.30" y="640.30" textLength="39.20" lengthAdjust="spacing">CO</text>
<text transform="translate(720.80 640.30) scale(0.9143 1)" x="0" y="0" textLength="28.98" lengthAdjust="spacing">10</text>
<text x="759.00" y="640.30" textLength="43.00" lengthAdjust="spacing">CM</text>
<text transform="translate(48.80 953.50) scale(0.9671 1)" x="0" y="0" textLength="153.97" lengthAdjust="spacing">ŚLIZGACZE</text>
<text x="211.00" y="953.50" textLength="77.50" lengthAdjust="spacing">WAVE</text>
<text x="300.60" y="953.50" textLength="40.30" lengthAdjust="spacing">CO</text>
<text x="353.80" y="953.50">6</text>
<text transform="translate(380.00 953.50) scale(0.9134 1)" x="0" y="0" textLength="52.44" lengthAdjust="spacing">LUB</text>
<text x="441.10" y="953.50">8</text>
<text x="467.00" y="953.50" textLength="42.90" lengthAdjust="spacing">CM</text>
<text transform="translate(59.80 985.30) scale(0.9409 1)" x="0" y="0" textLength="107.24" lengthAdjust="spacing">NALEŻY</text>
<text x="173.80" y="985.30" textLength="119.10" lengthAdjust="spacing">WYBRAĆ</text>
<text x="305.20" y="985.30" textLength="184.30" lengthAdjust="spacing">DODATKOWO</text>
<text x="62.60" y="1017.50">Z</text>
<text transform="translate(87.40 1017.50) scale(0.9963 1)" x="0" y="0" textLength="178.76" lengthAdjust="spacing">PRODUKTÓW</text>
<text x="277.00" y="1017.50" textLength="210.30" lengthAdjust="spacing">POWIĄZANYCH</text>
<text x="163.00" y="1049.30">U</text>
<text transform="translate(192.20 1049.30) scale(0.9575 1)" x="0" y="0" textLength="74.67" lengthAdjust="spacing">DOŁU</text>
<text x="276.40" y="1049.30" textLength="119.50" lengthAdjust="spacing">STRONY.</text>
<text transform="translate(1295.60 888.30) scale(0.9896 1)" x="0" y="0" textLength="141.37" lengthAdjust="spacing">SUFITOWE</text>
<text x="1449.00" y="888.30" textLength="40.00" lengthAdjust="spacing">4,2</text>
<text x="1501.00" y="888.30" textLength="43.00" lengthAdjust="spacing">CM</text>
<text x="1557.00" y="888.30" textLength="62.00" lengthAdjust="spacing">(TYP</text>
<text transform="translate(1631.00 888.30) scale(0.9821 1)" x="0" y="0" textLength="40.22" lengthAdjust="spacing">13)</text>
<text transform="translate(1294.50 1161.30) scale(0.9912 1)" x="0" y="0" textLength="140.74" lengthAdjust="spacing">SUFITOWE</text>
<text x="1447.00" y="1161.30" textLength="41.50" lengthAdjust="spacing">5,4</text>
<text x="1501.50" y="1161.30" textLength="43.00" lengthAdjust="spacing">CM</text>
<text x="1557.50" y="1161.30" textLength="62.00" lengthAdjust="spacing">(TYP</text>
<text x="1631.50" y="1161.30" textLength="40.60" lengthAdjust="spacing">15)</text>
<text x="751.00" y="1421.30" textLength="109.80" lengthAdjust="spacing">ZESTAW</text>
<text transform="translate(873.40 1421.30) scale(0.9481 1)" x="0" y="0" textLength="44.72" lengthAdjust="spacing">NIE</text>
<text transform="translate(928.40 1421.30) scale(0.9991 1)" x="0" y="0" textLength="124.21" lengthAdjust="spacing">ZAWIERA</text>
<text x="1065.00" y="1421.30" textLength="175.90" lengthAdjust="spacing">ŁĄCZNIKÓW.</text>
<text x="287.50" y="1453.10">W</text>
<text transform="translate(322.75 1453.10) scale(0.9395 1)" x="0" y="0" textLength="81.16" lengthAdjust="spacing">RAZIE</text>
<text transform="translate(411.40 1453.10) scale(0.9512 1)" x="0" y="0" textLength="147.55" lengthAdjust="spacing">POTRZEBY</text>
<text transform="translate(564.25 1453.10) scale(0.9325 1)" x="0" y="0" textLength="107.51" lengthAdjust="spacing">NALEŻY</text>
<text transform="translate(677.75 1453.10) scale(0.989 1)" x="0" y="0" textLength="119.82" lengthAdjust="spacing">WYBRAĆ</text>
<text transform="translate(808.50 1453.10) scale(0.9356 1)" x="0" y="0" textLength="31.80" lengthAdjust="spacing">JE</text>
<text x="849.50" y="1453.10" textLength="185.25" lengthAdjust="spacing">DODATKOWO</text>
<text x="1045.50" y="1453.10">Z</text>
<text x="1071.25" y="1453.10" textLength="177.00" lengthAdjust="spacing">PRODUKTÓW</text>
<text x="1260.50" y="1453.10" textLength="210.50" lengthAdjust="spacing">POWIĄZANYCH</text>
<text x="1481.75" y="1453.10">U</text>
<text transform="translate(1509.50 1453.10) scale(0.9874 1)" x="0" y="0" textLength="74.94" lengthAdjust="spacing">DOŁU</text>
<text x="1594.50" y="1453.10" textLength="119.50" lengthAdjust="spacing">STRONY.</text></g>
</svg>
</body></html>
